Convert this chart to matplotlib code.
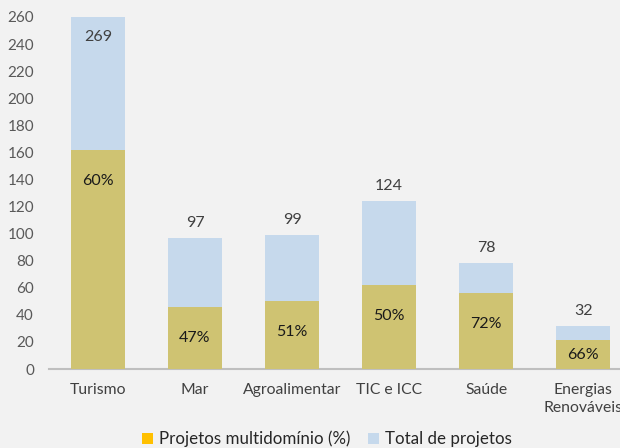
import matplotlib
matplotlib.use("Agg")
import matplotlib.pyplot as plt
from matplotlib.patches import Patch
import numpy as np

categories = ["Turismo", "Mar", "Agroalimentar", "TIC e ICC", "Saúde", "Energias\nRenováveis"]
totals = [269, 97, 99, 124, 78, 32]
multi_pct = [60, 47, 51, 50, 72, 66]
yticks = [0, 20, 40, 60, 80, 100, 120, 140, 160, 180, 200, 220, 240, 260]

plt.rcParams['font.family'] = ['Lato', 'DejaVu Sans']

BG = "#F2F2F2"
BLUE = "#C6D9EC"
OLIVE = "#CFC372"
GOLD = "#FFC000"

fig = plt.figure(figsize=(6.2, 4.48), dpi=100, facecolor=BG)
ax = fig.add_axes([49/620, 1-369/448, 1-49/620, (369-17)/448])
ax.set_facecolor(BG)

x = np.arange(len(categories))
w = 0.557
ymax = 260
multi = [t * p / 100 for t, p in zip(totals, multi_pct)]

ax.bar(x, totals, width=w, color=BLUE, zorder=2)
ax.bar(x, multi, width=w, color=OLIVE, zorder=3)

ax.set_ylim(0, ymax)
ax.set_xlim(-0.505, 5.38)
ax.set_yticks(yticks)
ax.set_xticks(x)
ax.set_xticklabels(categories)

for s in ["top", "right", "left"]:
    ax.spines[s].set_visible(False)
ax.spines["bottom"].set_color("#BFBFBF")
ax.spines["bottom"].set_linewidth(1.5)
ax.tick_params(axis="y", length=0, colors="#595959", labelsize=11, pad=10.8)
ax.tick_params(axis="x", length=0, colors="#404040", labelsize=11.3, pad=10)
for lab in ax.get_xticklabels():
    lab.set_linespacing(1.4)

px_per_unit = (369 - 17) / ymax
for xi, t, m, p in zip(x, totals, multi, multi_pct):
    if t > ymax:
        ax.annotate(str(t), (xi, ymax), xytext=(0, -20), textcoords="offset pixels",
                    ha="center", va="center", fontsize=11.5, color="#404040", zorder=5)
    else:
        ax.annotate(str(t), (xi, t), xytext=(0, 15), textcoords="offset pixels",
                    ha="center", va="center", fontsize=11.5, color="#404040", zorder=5)
    hpx = m * px_per_unit
    if hpx > 60:
        ax.annotate(f"{p}%", (xi, m), xytext=(0, -31), textcoords="offset pixels",
                    ha="center", va="center", fontsize=11.5, color="#1A1A1A", zorder=5)
    else:
        ax.annotate(f"{p}%", (xi, m / 2), ha="center", va="center",
                    fontsize=11.5, color="#1A1A1A", zorder=5)

handles = [Patch(facecolor=GOLD, edgecolor="none"), Patch(facecolor=BLUE, edgecolor="none")]
fig.legend(handles, ["Projetos multidomínio (%)", "Total de projetos"],
           loc="center", bbox_to_anchor=(327/620, 1-439/448), ncol=2, frameon=False,
           fontsize=12.2, handlelength=0.65, handleheight=0.65, handletextpad=0.35,
           columnspacing=1.0, labelcolor="#262626", borderpad=0)

fig.savefig("out.png", dpi=100, facecolor=BG)
